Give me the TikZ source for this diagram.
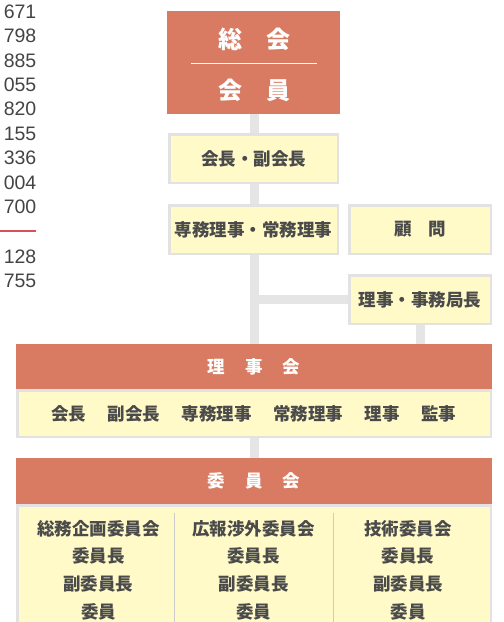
\documentclass[tikz,border=0pt]{standalone}
\usepackage{fontspec}
\setmainfont{Noto Sans CJK JP}
\newfontfamily\numfont{Liberation Sans}
\usetikzlibrary{backgrounds}
\definecolor{hdr}{HTML}{D97B62}
\definecolor{ylw}{HTML}{FFFAC8}
\definecolor{bgray}{HTML}{E2E2E2}
\definecolor{cgray}{HTML}{E5E5E5}
\definecolor{dgray}{HTML}{CCCCCC}
\definecolor{txt}{HTML}{4A4A4A}
\definecolor{numtxt}{HTML}{444444}
\definecolor{redline}{HTML}{D9505C}
\tikzset{
  ybox/.style={draw=bgray, line width=2.5pt, fill=ylw, inner sep=0pt,
    text=txt, font=\fontsize{17.5}{20}\selectfont\bfseries,
    minimum width=#1, minimum height=48.5pt},
  ybox/.default=168.5pt,
  rbox/.style={fill=hdr, draw=none, inner sep=0pt, text=white,
    font=\fontsize{17.5}{20}\selectfont\bfseries,
    minimum width=476pt},
  conn/.style={draw=cgray, line width=9pt},
  num/.style={anchor=base east, inner sep=0pt, text=numtxt,
    font=\numfont\fontsize{19.5}{22}\selectfont},
  coltext/.style={inner sep=0pt, text=txt, align=center,
    font=\fontsize{17.5}{27.7}\selectfont\bfseries}
}
\begin{document}
\begin{tikzpicture}[x=1pt,y=-1pt]
\useasboundingbox (0,0) rectangle (504,622);
\clip (0,0) rectangle (504,622);
% left numbers
\foreach \n/\y in {671/11,798/35,885/60,055/84,820/108,155/133,336/157,004/182,700/206,128/256,755/280}{
  \node[num] (n\n) at (36.5,\y+7) {\n};
}
\draw[draw=redline, line width=1.3pt] (0,231) -- (36,231);
% top box
\node[fill=hdr, inner sep=0pt, minimum width=173pt, minimum height=103pt] (top) at (253.5,62.5) {};
\node[text=white, inner sep=0pt, font=\fontsize{24}{28}\selectfont\bfseries] (soukai) at (254,39) {総\hspace{24pt}会};
\node[text=white, inner sep=0pt, font=\fontsize{24}{28}\selectfont\bfseries] (kaiin) at (254,90) {会\hspace{24pt}員};
\draw[white, line width=1pt] (191,63) -- (317,63);
% yellow boxes
\node[ybox] (kaicho) at (253.5,158.5) {会長・副会長};
\node[ybox] (senmu) at (253.5,229.5) {専務理事・常務理事};
\node[ybox=141.5pt] (komon) at (420,229.5) {顧\hspace{17pt}問};
\node[ybox=141.5pt] (jimu) at (420,299.5) {理事・事務局長};
% riji-kai
\node[rbox, minimum height=45pt] (rh) at (254,366.5) {理\hspace{20pt}事\hspace{20pt}会};
\node[ybox=473.5pt, minimum height=46.5pt] (rb) at (254,413.5) {会長\hspace{21.5pt}副会長\hspace{21.5pt}専務理事\hspace{21.5pt}常務理事\hspace{21.5pt}理事\hspace{21.5pt}監事};
% iin-kai
\node[rbox, minimum height=46pt] (ih) at (254,481) {委\hspace{20pt}員\hspace{20pt}会};
\draw[draw=bgray, line width=2.5pt, fill=ylw] (17.25,505.25) rectangle (490.75,640);
\draw[dgray, line width=1pt] (174,513) -- (174,622);
\draw[dgray, line width=1pt] (333,513) -- (333,622);
\node[coltext] (c1) at (98.5,570) {総務企画委員会\\委員長\\副委員長\\委員};
\node[coltext] (c2) at (253.5,570) {広報渉外委員会\\委員長\\副委員長\\委員};
\node[coltext] (c3) at (408,570) {技術委員会\\委員長\\副委員長\\委員};
% connectors
\begin{scope}[on background layer]
\draw[conn] ([xshift=1pt]top.south) -- ([xshift=1pt]top.south |- rh.north);
\draw[conn] ([xshift=1pt]senmu.south |- jimu.west) -- (jimu.west);
\draw[conn] (jimu.south) -- (jimu.south |- rh.north);
\draw[conn] (rb.south) -- (rb.south |- ih.north);
\end{scope}
\end{tikzpicture}
\end{document}
